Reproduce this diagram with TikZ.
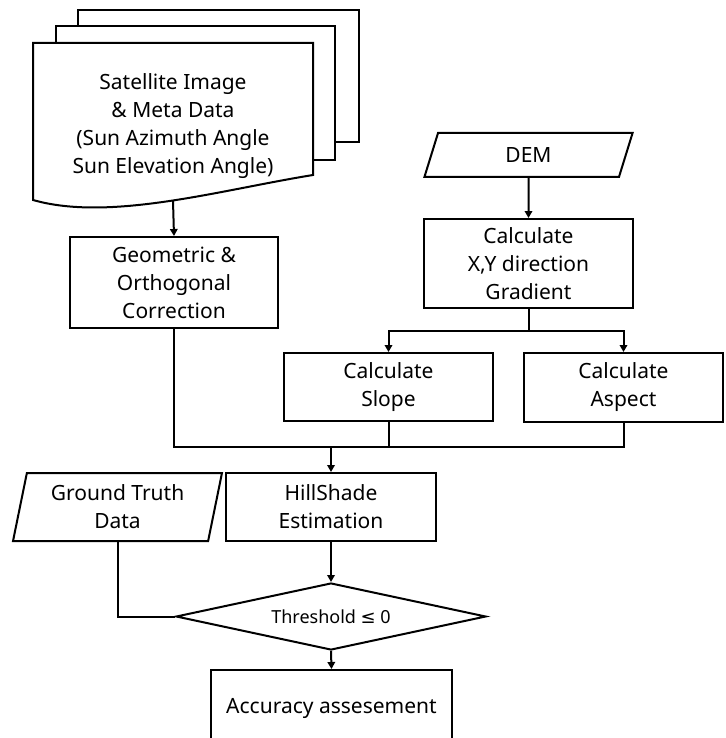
\documentclass[tikz,border=0pt]{standalone}
\usepackage{fontspec}
\setmainfont{Noto Sans}
\newfontfamily\symfont{DejaVu Sans}
\usetikzlibrary{shapes.geometric,arrows.meta}
\begin{document}
\begin{tikzpicture}[x=1pt,y=-1pt,
  line width=2pt,
  font=\fontsize{21}{28}\selectfont,
  box/.style={draw, rectangle, inner sep=0pt, align=center},
  io/.style={draw, trapezium, trapezium left angle=77, trapezium right angle=103,
    trapezium stretches=true, inner sep=0pt, align=center},
  decision/.style={draw, diamond, shape aspect=4.6, inner sep=0pt, align=center,
    font=\fontsize{18}{22}\selectfont},
  arr/.style={-{Triangle[length=7pt,width=7.5pt]}}]
\clip (0,0) rectangle (725,738);

% stacked satellite documents
\draw[fill=white] (78,142) rectangle (359,10);
\draw[fill=white] (56,160) rectangle (335,26);
\draw[fill=white] (33,200) -- (33,43) -- (313,43) -- (313,175)
  .. controls (220,190) and (110,222) .. (33,200) -- cycle;
\node[align=center] (sat) at (173,126)
  {Satellite Image\\ \& Meta Data\\ (Sun Azimuth Angle\\ Sun Elevation Angle)};
\coordinate (satbot) at (173,201);

% process steps
\node[box, minimum width=208pt, minimum height=91pt] (geo) at (174,282.5)
  {Geometric \&\\ Orthogonal\\ Correction};
\node[io, minimum width=209pt, minimum height=44pt] (dem) at (528.5,155) {DEM};
\node[box, minimum width=209pt, minimum height=89pt] (grad) at (528.5,263.5)
  {Calculate\\ X,Y direction\\ Gradient};
\node[box, minimum width=209pt, minimum height=68pt] (slope) at (388.5,387)
  {Calculate\\ Slope};
\node[box, minimum width=199pt, minimum height=69pt] (aspect) at (623.5,387.5)
  {Calculate\\ Aspect};
\node[box, minimum width=210pt, minimum height=68pt] (hill) at (331,507)
  {HillShade\\ Estimation};
\node[io, minimum width=209pt, minimum height=68pt] (gt) at (117.5,507)
  {Ground Truth\\ Data};
\node[decision, minimum width=310pt, minimum height=67pt] (dia) at (331,616.5)
  {Threshold {\symfont ≤} 0};
\node[box, minimum width=241pt, minimum height=76pt] (acc) at (331.5,708)
  {Accuracy assesement};

% connectors
\coordinate (split) at (528.5,331);
\coordinate (merge) at (331,447);
\draw[arr] (satbot) -- (geo.north);
\draw[arr] (dem.south) -- (grad.north);
\draw[arr] (grad.south) -- (split) -| (slope.north);
\draw[arr] (split) -| (aspect.north);
\draw (geo.south) |- (merge);
\draw (slope.south) |- (merge);
\draw (aspect.south) |- (merge);
\draw[arr] (merge) -- (hill.north);
\draw[arr] (hill.south) -- (dia.north);
\draw (gt.south) |- (dia.west);
\draw[arr] (dia.south) -- (acc.north);
\end{tikzpicture}
\end{document}
